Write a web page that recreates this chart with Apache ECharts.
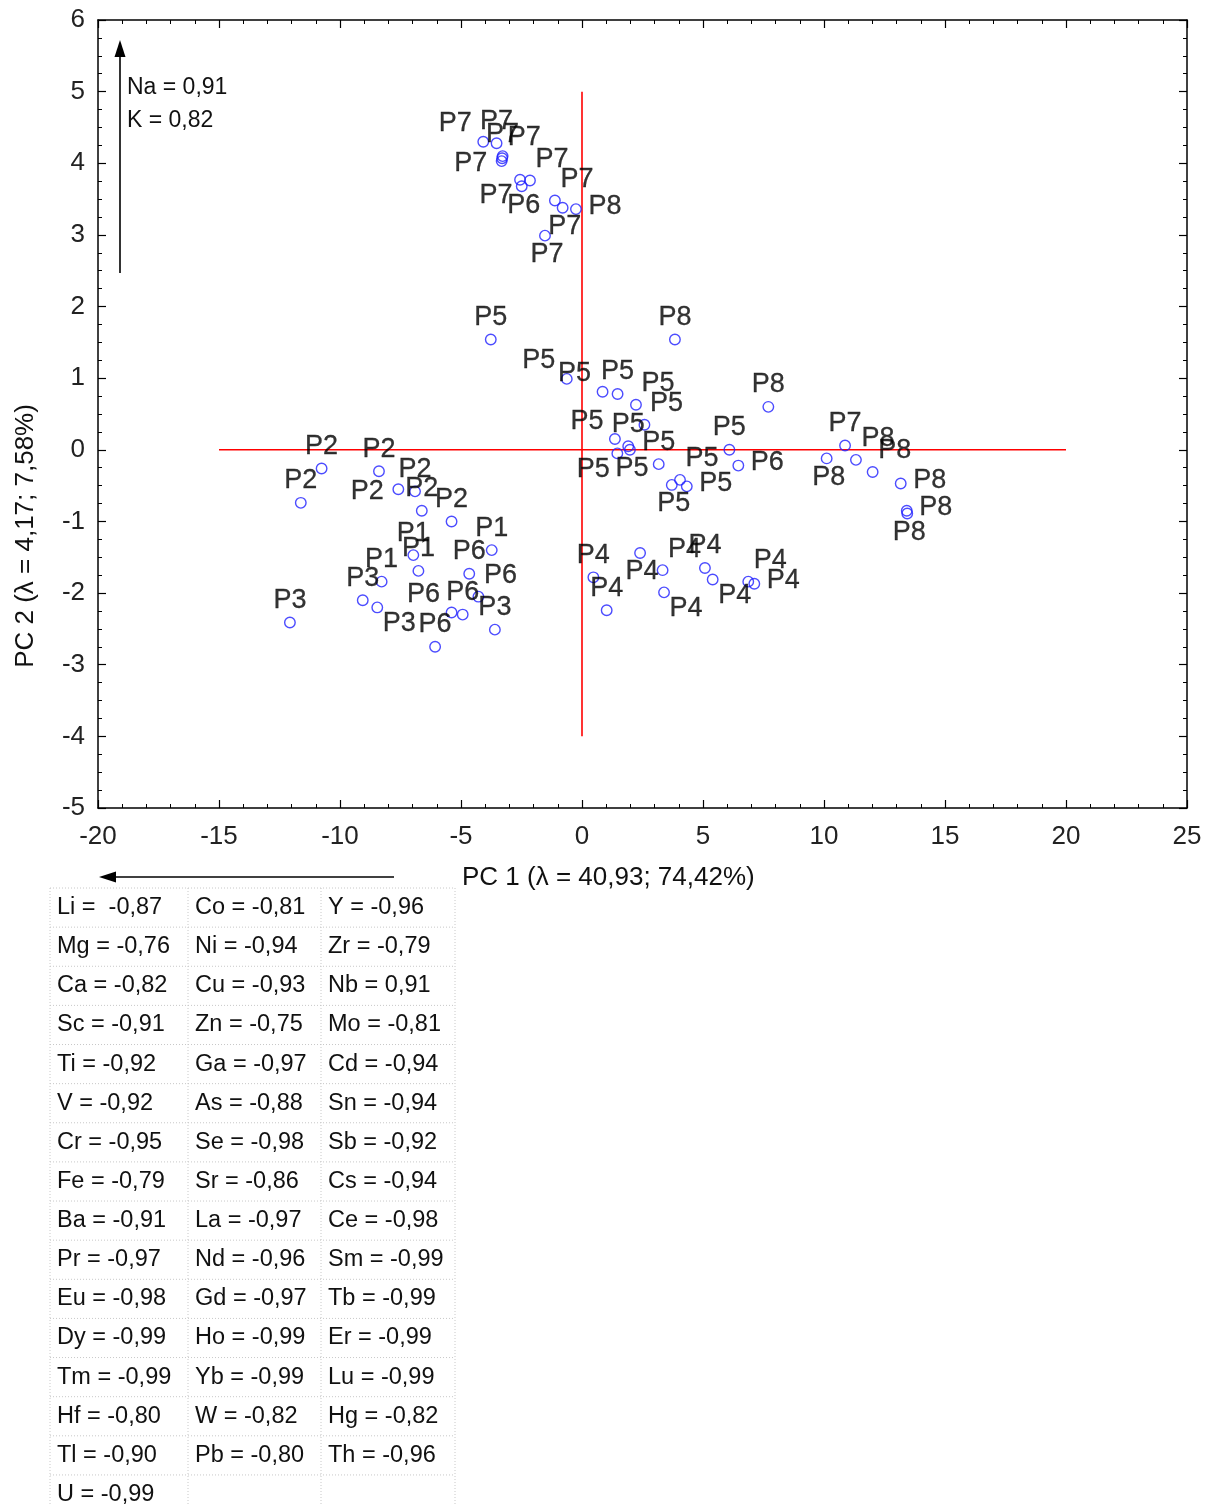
<!DOCTYPE html>
<html><head><meta charset="utf-8">
<script src="https://cdn.jsdelivr.net/npm/echarts@6/dist/echarts.min.js"></script>
<style>html,body{margin:0;padding:0;background:#fff}#c{width:1214px;height:1506px}</style>
</head><body><div id="c"></div>
<script>
// ---- data ----
const sampleNames = [
 'P7','P7','P7','P7','P7','P7','P6','P7','P7','P7','P8','P7',
 'P5','P5','P5','P5','P5','P5','P5','P5','P5','P5','P5','P5','P5','P5','P5',
 'P8','P8','P6','P7','P8','P8','P8','P8','P8','P8',
 'P2','P2','P2','P2','P2','P2','P2',
 'P1','P1','P1','P1',
 'P3','P3','P3','P3',
 'P6','P6','P6','P6','P6',
 'P4','P4','P4','P4','P4','P4','P4','P4','P4'
];
const pc1 = [
 -4.08,-3.53,-3.28,-3.30,-3.32,-2.56,-2.49,-2.15,-1.12,-0.80,-0.25,-1.53,
 -3.77,-0.63,0.85,1.47,2.23,2.58,1.36,1.91,1.46,1.98,3.17,6.09,3.71,4.05,4.33,
 3.84,7.70,6.46,10.87,10.11,11.32,12.01,13.17,13.42,13.44,
 -10.76,-11.62,-8.39,-7.59,-6.90,-6.62,-5.39,
 -3.73,-6.97,-6.76,-8.28,
 -12.07,-9.06,-8.46,-3.60,
 -4.66,-4.28,-5.39,-4.93,-6.07,
 0.47,1.02,2.40,3.33,3.39,5.08,5.40,6.87,7.12
];
const pc2 = [
 4.30,4.28,4.10,4.07,4.03,3.77,3.68,3.76,3.48,3.38,3.36,2.99,
 1.54,0.99,0.81,0.78,0.63,0.35,0.15,0.05,-0.05,0.00,-0.20,0.00,-0.49,-0.42,-0.51,
 1.54,0.60,-0.22,0.06,-0.12,-0.14,-0.31,-0.47,-0.85,-0.89,
 -0.26,-0.74,-0.30,-0.55,-0.58,-0.85,-1.00,
 -1.40,-1.47,-1.69,-1.84,
 -2.41,-2.10,-2.20,-2.51,
 -1.73,-2.05,-2.27,-2.30,-2.75,
 -1.78,-2.24,-1.44,-1.68,-1.99,-1.65,-1.81,-1.84,-1.87
];
// label placement codes (style only)
const labelAnchor = [
 'tl','t','t','tr','l','bl','b','tr','tr','b','r','b',
 't','tl','tl','t','tr','tr','tl','t','bl','b','t','t','b','tr','r',
 't','t','r','t','b','tr','tr','r','r','b',
 't','t','t','l','t','t','t',
 't','t','t','t',
 't','t','br','t',
 't','tr','tl','t','t',
 't','t','b','tr','br','t','br','tr','r'
];
const hLine = [[-15,0],[20,0]];
const vLine = [[0,5],[0,-4]];
const xRange = [-20,25], xStep = 5;
const yRange = [-5,6], yStep = 1;
const xTitle = 'PC 1 (λ = 40,93; 74,42%)';
const yTitle = 'PC 2 (λ = 4,17; 7,58%)';
const pc2Loadings = ['Na = 0,91','K = 0,82'];
const pc1Loadings = [
 ['Li =  -0,87','Co = -0,81','Y = -0,96'],
 ['Mg = -0,76','Ni = -0,94','Zr = -0,79'],
 ['Ca = -0,82','Cu = -0,93','Nb = 0,91'],
 ['Sc = -0,91','Zn = -0,75','Mo = -0,81'],
 ['Ti = -0,92','Ga = -0,97','Cd = -0,94'],
 ['V = -0,92','As = -0,88','Sn = -0,94'],
 ['Cr = -0,95','Se = -0,98','Sb = -0,92'],
 ['Fe = -0,79','Sr = -0,86','Cs = -0,94'],
 ['Ba = -0,91','La = -0,97','Ce = -0,98'],
 ['Pr = -0,97','Nd = -0,96','Sm = -0,99'],
 ['Eu = -0,98','Gd = -0,97','Tb = -0,99'],
 ['Dy = -0,99','Ho = -0,99','Er = -0,99'],
 ['Tm = -0,99','Yb = -0,99','Lu = -0,99'],
 ['Hf = -0,80','W = -0,82','Hg = -0,82'],
 ['Tl = -0,90','Pb = -0,80','Th = -0,96'],
 ['U = -0,99','','']
];

// ---- styling ----
const FONT = '"Liberation Sans", Arial, sans-serif';
const ANCHOR = {t:[0,-22], b:[2,19], l:[-31,2], r:[29,-3], tl:[-28,-18], tr:[22,-21], br:[22,16], bl:[-24,16]};
const chart = echarts.init(document.getElementById('c'), null, {renderer:'canvas'});

const points = sampleNames.map((n,i)=>({
  name:n, value:[pc1[i],pc2[i]],
  label:{offset:ANCHOR[labelAnchor[i]]}
}));

const axisCommon = {
  axisLine:{show:true,onZero:false,lineStyle:{color:'#000',width:1.5}},
  axisTick:{show:true,inside:true,length:8,lineStyle:{color:'#000',width:1.2}},
  splitLine:{show:false}
};
function xAx(pos,showLabel){
  return Object.assign({}, axisCommon, {
    type:'value', position:pos, min:xRange[0], max:xRange[1], interval:xStep,
    minorTick:{show:true,splitNumber:5,length:4,lineStyle:{color:'#000',width:1}},
    axisLabel:{show:showLabel,fontSize:26,color:'#222',fontFamily:FONT,margin:16}
  });
}
function yAx(pos,showLabel){
  return Object.assign({}, axisCommon, {
    type:'value', position:pos, min:yRange[0], max:yRange[1], interval:yStep,
    minorTick:{show:true,splitNumber:4,length:4,lineStyle:{color:'#000',width:1}},
    axisLabel:{show:showLabel,fontSize:26,color:'#222',fontFamily:FONT,margin:13}
  });
}

// table graphics
const tbl = [];
const colX = [50,188,321,455], rowTop = 888, rowH = 39.13, nRows = pc1Loadings.length;
const dotted = {stroke:'#c8c8c8', lineWidth:1, lineDash:[1,2]};
for(let k=0;k<=nRows;k++){
  tbl.push({type:'line',shape:{x1:colX[0],y1:rowTop+k*rowH,x2:colX[3],y2:rowTop+k*rowH},style:dotted,silent:true});
}
for(const cx of colX){
  tbl.push({type:'line',shape:{x1:cx,y1:rowTop,x2:cx,y2:rowTop+nRows*rowH},style:dotted,silent:true});
}
pc1Loadings.forEach((row,r)=>row.forEach((t,c)=>{
  if(!t) return;
  tbl.push({type:'text',x:colX[c]+7,y:rowTop+rowH*(r+0.5),
    style:{text:t,fill:'#111',font:'23.5px '+FONT,textVerticalAlign:'middle',textAlign:'left'}});
}));

const graphics = tbl.concat([
  // vertical arrow (PC2 loadings)
  {type:'line',shape:{x1:120,y1:273,x2:120,y2:54},style:{stroke:'#000',lineWidth:1.6}},
  {type:'polygon',shape:{points:[[120,40],[114.5,57],[125.5,57]]},style:{fill:'#000'}},
  {type:'text',x:127,y:88,style:{text:pc2Loadings[0],fill:'#111',font:'23px '+FONT,textVerticalAlign:'middle'}},
  {type:'text',x:127,y:121,style:{text:pc2Loadings[1],fill:'#111',font:'23px '+FONT,textVerticalAlign:'middle'}},
  // horizontal arrow (PC1 loadings)
  {type:'line',shape:{x1:394,y1:877,x2:112,y2:877},style:{stroke:'#000',lineWidth:1.6}},
  {type:'polygon',shape:{points:[[99,877],[116,871.5],[116,882.5]]},style:{fill:'#000'}},
  // axis titles
  {type:'text',x:462,y:878,style:{text:xTitle,fill:'#111',font:'26px '+FONT,textVerticalAlign:'middle',textAlign:'left'}},
  {type:'text',x:26,y:536,rotation:Math.PI/2,style:{text:yTitle,fill:'#111',font:'26px '+FONT,textVerticalAlign:'middle',textAlign:'center'}}
]);

chart.setOption({
  animation:false,
  backgroundColor:'#fff',
  grid:{left:98,right:27,top:20,bottom:698,containLabel:false},
  xAxis:[xAx('bottom',true), xAx('top',false)],
  yAxis:[yAx('left',true), yAx('right',false)],
  series:[
    {type:'line',data:hLine,symbol:'none',lineStyle:{color:'#ff0000',width:1.6},z:1,silent:true},
    {type:'line',data:vLine,symbol:'none',lineStyle:{color:'#ff0000',width:1.6},z:1,silent:true},
    {type:'scatter',data:points,symbol:'circle',symbolSize:10.5,z:3,
      itemStyle:{color:'rgba(0,0,0,0)',borderColor:'#1f1fff',borderWidth:1.4},
      label:{show:true,position:'inside',formatter:p=>p.name,color:'#000',fontSize:27,fontFamily:FONT,
        align:'center',verticalAlign:'middle',textBorderColor:'#000',textBorderWidth:0.3},
      emphasis:{disabled:true}
    }
  ],
  graphic:graphics
});
</script></body></html>
